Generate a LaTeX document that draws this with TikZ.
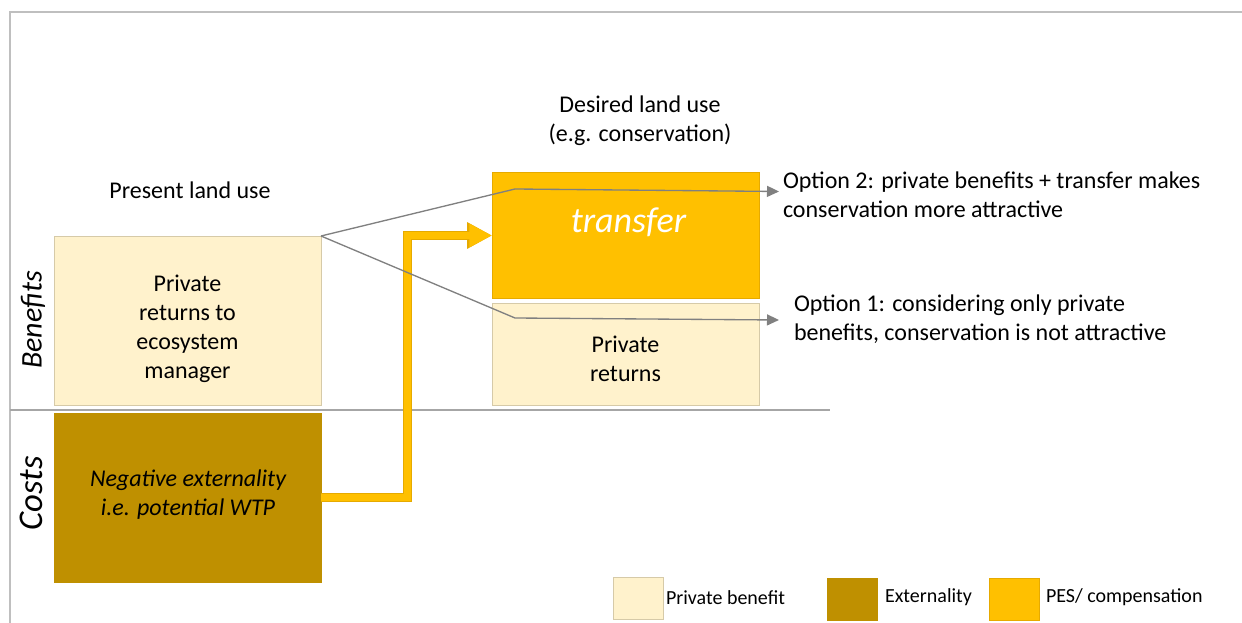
\documentclass[tikz,border=0pt]{standalone}
\usepackage{fontspec}
\setmainfont{Carlito}
\usetikzlibrary{arrows.meta,calc}
\definecolor{pb}{HTML}{FFF2CC}
\definecolor{pbline}{HTML}{D6CAA8}
\definecolor{extc}{HTML}{BF9000}
\definecolor{pes}{HTML}{FFC000}
\definecolor{pesline}{HTML}{E6AA00}
\definecolor{conn}{HTML}{808080}
\definecolor{framec}{HTML}{BFBFBF}
\definecolor{divc}{HTML}{A6A6A6}
\begin{document}
\begin{tikzpicture}[x=0.75pt,y=-0.75pt,
  every node/.style={inner sep=0pt, outer sep=0pt},
  boxbase/.style={rectangle, anchor=north west, line width=0.6pt, minimum width=200.25pt},
  pbbox/.style={boxbase, fill=pb, draw=pbline},
  extbox/.style={boxbase, fill=extc, draw=extc},
  pesbox/.style={boxbase, fill=pes, draw=pesline},
  legbox/.style={rectangle, anchor=north west, line width=0.6pt, minimum width=37.5pt, minimum height=31.5pt},
  txt/.style={font=\fontsize{18}{21.75}\selectfont, align=center},
  legtxt/.style={font=\fontsize{15}{18}\selectfont, anchor=base west},
  sidetxt/.style={font=\itshape, rotate=90, anchor=base},
  conn/.style={draw=conn, line width=1pt, -{Triangle[length=9pt,width=8.25pt]}},
  framel/.style={draw=framec, line width=1.5pt},
  divl/.style={draw=divc, line width=1.1pt},
]
\useasboundingbox (0,0) rectangle (1242,623);
% frame
\draw[framel] (10,623) -- (10,12) -- (1242,12);
% divider
\draw[divl] (10,410) -- (830,410);

% boxes
\node[pbbox, minimum height=126.75pt] (present) at (54,236) {};
\node[extbox, minimum height=126.75pt] (ext) at (54,413) {};
\node[pesbox, minimum height=94.5pt] (transfer) at (492,172) {};
\node[pbbox, minimum height=76.5pt] (desired) at (492,303) {};

% texts
\node[txt] (presentlbl) at (190,190.5) {Present land use};
\node[txt] (desiredlbl) at (640,121) {Desired land use\\(e.g. conservation)};
\node[txt] (presenttxt) at (187.5,328.5) {Private\\returns to\\ecosystem\\manager};
\node[txt, font=\fontsize{18}{21.75}\selectfont\itshape] (exttxt) at (188,494.5) {Negative externality\\i.e. potential WTP};
\node[txt] (desiredtxt) at (625.5,359) {Private\\returns};
\node[font=\fontsize{27}{32}\selectfont\itshape, text=white, anchor=base] (transfertxt) at (628.5,233) {transfer};
\node[sidetxt, font=\fontsize{22.5}{27}\selectfont\itshape] (benefits) at (41.7,320) {Benefits};
\node[sidetxt, font=\fontsize{26}{31}\selectfont\itshape] (costs) at (42.5,493.5) {Costs};

\node[txt, align=left, anchor=west] (opt2) at (783,194.5) {Option 2: private benefits + transfer makes\\conservation more attractive};
\node[txt, align=left, anchor=west] (opt1) at (794,319.5) {Option 1: considering only private\\benefits, conservation is not attractive};

% yellow transfer arrow
\coordinate (ybend) at (407.5,235.5);
\draw[draw=pesline, line width=6.75pt, -{Triangle[length=18.75pt,width=18.75pt]}] (ext.east) -| (ybend) -- (ybend -| transfer.west);
\draw[draw=pes, line width=5.25pt, -{Triangle[length=17pt,width=16.5pt]}] (ext.east) -| (ybend) -- (ybend -| transfer.west);

% gray connectors
\coordinate (b2) at (515,189);
\coordinate (t2) at (779,191.5);
\coordinate (b1) at (515,318);
\coordinate (t1) at (779,320);
\draw[conn] (present.north east) -- (b2) -- (t2);
\draw[conn] (present.north east) -- (b1) -- (t1);

% legend
\node[legbox, fill=pb, draw=pbline] (leg1) at (613,577) {};
\node[legtxt] (leg1txt) at (666,604.5) {Private benefit};
\node[legbox, fill=extc, draw=extc] (leg2) at (827,578) {};
\node[legtxt] (leg2txt) at (885,602.4) {Externality};
\node[legbox, fill=pes, draw=pesline] (leg3) at (989,578) {};
\node[legtxt] (leg3txt) at (1046,602.4) {PES/ compensation};
\end{tikzpicture}
\end{document}
